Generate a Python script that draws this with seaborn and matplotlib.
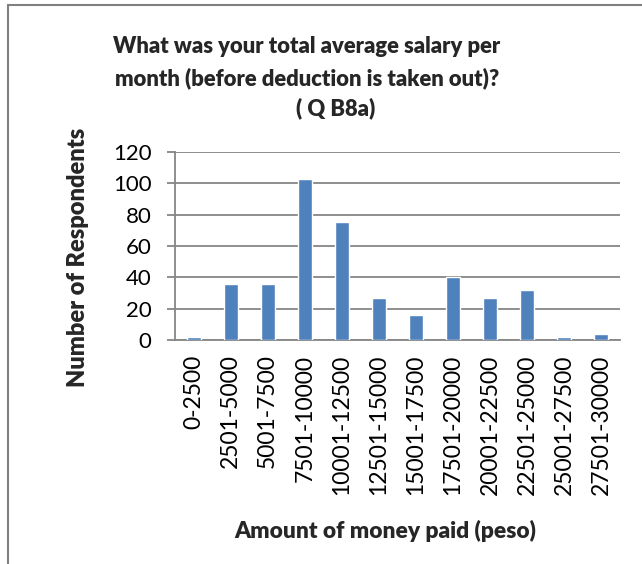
import matplotlib
matplotlib.use("Agg")
import matplotlib.pyplot as plt
import seaborn as sns
import pandas as pd
from matplotlib.lines import Line2D

categories = ["0-2500", "2501-5000", "5001-7500", "7501-10000", "10001-12500",
              "12501-15000", "15001-17500", "17501-20000", "20001-22500",
              "22501-25000", "25001-27500", "27501-30000"]
respondents = [2, 36, 36, 103, 75, 27, 16, 40, 27, 32, 2, 4]
y_ticks = [0, 20, 40, 60, 80, 100, 120]
title_lines = ["What was your total average salary per",
               "month (before deduction is taken out)?",
               "( Q B8a)"]

sns.set_style("white")
plt.rcParams['font.family'] = ['Lato', 'DejaVu Sans']

df = pd.DataFrame({"cat": categories, "n": respondents})

fig = plt.figure(figsize=(6.42, 5.64), dpi=100)
ax = fig.add_axes([0.2726, 0.3972, 0.693, 0.3333])
sns.barplot(data=df, x="cat", y="n", color="#4F81BD", width=0.38, saturation=1,
            ax=ax, zorder=3)
ax.set_ylim(0, 120)
ax.set_yticks(y_ticks)
ax.set_xlim(-0.5, len(categories) - 0.5)
ax.yaxis.grid(True, color="#868686", linewidth=1.3, zorder=0)
ax.set_axisbelow(True)
for s in ["top", "right"]:
    ax.spines[s].set_visible(False)
ax.spines["left"].set_color("#868686")
ax.spines["left"].set_linewidth(1.3)
ax.spines["bottom"].set_color("#868686")
ax.spines["bottom"].set_linewidth(1.3)
ax.tick_params(axis="y", left=True, length=6, color="#868686", width=1.3,
               labelsize=16, pad=11, labelcolor="black")
ax.tick_params(axis="x", bottom=False, labelsize=16.5, pad=7, labelcolor="black")
ax.set_xticks(range(len(categories)))
ax.set_xticklabels(categories, rotation=90)
ax.set_xlabel("Amount of money paid (peso)", fontsize=16.4, fontweight="heavy", labelpad=18)
ax.set_ylabel("Number of Respondents", fontsize=17, fontweight="heavy", labelpad=17)
ax.xaxis.label.set_x(0.473)
ax.yaxis.label.set_y(0.442)

title_pos = [(0.478, 0.9167), (0.478, 0.8617), (0.523, 0.8085)]
for line, (tx, ty) in zip(title_lines, title_pos):
    fig.text(tx, ty, line, ha="center", va="center", fontsize=15.8, fontweight="heavy")

# frame lines (left and top)
fig.add_artist(Line2D([0.0117, 0.0117], [0, 0.991], transform=fig.transFigure,
                      color="#808080", linewidth=1.5))
fig.add_artist(Line2D([0.0117, 1.0], [0.991, 0.991], transform=fig.transFigure,
                      color="#808080", linewidth=1.5))

fig.savefig("out.png", dpi=100)
